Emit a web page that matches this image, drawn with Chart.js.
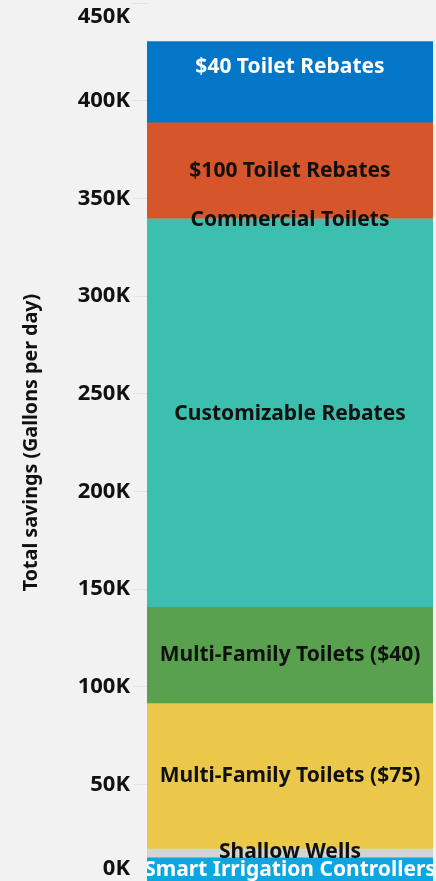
<!DOCTYPE html>
<html>
<head>
<meta charset="utf-8">
<script src="https://cdn.jsdelivr.net/npm/chart.js@4/dist/chart.umd.min.js"></script>
<style>
  html, body { margin: 0; padding: 0; background: #f2f2f2; overflow: hidden; }
  #wrap { width: 436px; height: 884px; position: relative; }
</style>
</head>
<body>
<div id="wrap"><canvas id="savings"></canvas></div>
<script>
// data, bottom segment first (stack order)
var categories = ['Total']
var seriesNames = [
    'Smart Irrigation Controllers',
    'Shallow Wells',
    'Multi-Family Toilets ($75)',
    'Multi-Family Toilets ($40)',
    'Customizable Rebates',
    'Commercial Toilets',
    '$100 Toilet Rebates',
    '$40 Toilet Rebates'
]
var seriesValues = [12400, 4500, 74400, 49300, 198000, 1000, 49000, 41700]
var yTickValues = [0, 50000, 100000, 150000, 200000, 250000, 300000, 350000, 400000, 450000]
var yTitle = 'Total savings (Gallons per day)'

var segColors = ['#0ca6e0', '#d3d3d3', '#ebc84a', '#59a14f', '#3cbfae', '#8f9c98', '#d6552b', '#0376c8']
var textColors = ['#ffffff', '#111111', '#111111', '#111111', '#111111', '#111111', '#111111', '#ffffff']
// label nudge (px) per segment, top one sits above its middle in the original
var labelNudge = [0, -1, 0, 0, 0, 0, 0, -15]
var FONT = '"Noto Sans", "Open Sans", sans-serif'

function fmtK(v){ return Math.round(v / 1000) + 'K' }

var datasets = seriesNames.map(function(name, i){
    return {
        label: name,
        data: [seriesValues[i]],
        backgroundColor: segColors[i],
        borderWidth: 0,
        categoryPercentage: 1,
        barPercentage: 1
    }
})

// segment labels + clamped y tick labels (tableau style)
var labelPlugin = {
    id: 'labelPlugin',
    afterDatasetsDraw: function(chart){
        var ctx = chart.ctx
        var ca = chart.chartArea
        ctx.save()
        ctx.beginPath()
        ctx.rect(ca.left, 0, ca.right - ca.left, chart.height)
        ctx.clip()
        ctx.font = 'bold 21px ' + FONT
        ctx.textAlign = 'center'
        ctx.textBaseline = 'middle'
        chart.data.datasets.forEach(function(ds, i){
            var el = chart.getDatasetMeta(i).data[0]
            if(!el) return
            var yc = (el.y + el.base) / 2
            ctx.fillStyle = textColors[i]
            ctx.fillText(ds.label, el.x, yc + labelNudge[i])
        })
        ctx.restore()
    },
    afterDraw: function(chart){
        var ctx = chart.ctx
        var sc = chart.scales.y
        ctx.save()
        ctx.font = 'bold 22px ' + FONT
        ctx.textAlign = 'right'
        ctx.textBaseline = 'middle'
        ctx.fillStyle = '#111111'
        yTickValues.forEach(function(v){
            var y = sc.getPixelForValue(v)
            y = Math.max(17, Math.min(869, y))
            ctx.fillText(fmtK(v), 130, y)
        })
        ctx.restore()
    }
}

new Chart(document.getElementById('savings'), {
    type: 'bar',
    data: { labels: categories, datasets: datasets },
    options: {
        responsive: true,
        maintainAspectRatio: false,
        animation: false,
        layout: { padding: { top: 3, bottom: 2, right: 3, left: 0 } },
        plugins: { legend: { display: false }, tooltip: { enabled: false } },
        scales: {
            x: { stacked: true, display: false },
            y: {
                stacked: true,
                min: 0,
                max: 450000,
                ticks: { stepSize: 50000, display: false },
                grid: { drawOnChartArea: false, drawTicks: true, tickLength: 14, color: '#e4e4e4' },
                border: { display: false },
                title: {
                    display: true,
                    text: yTitle,
                    color: '#111111',
                    font: { family: FONT, size: 19.7, weight: 'bold' },
                    padding: { top: 20, bottom: 0 }
                },
                afterFit: function(scale){ scale.width = 147 }
            }
        }
    },
    plugins: [labelPlugin]
})
</script>
</body>
</html>
